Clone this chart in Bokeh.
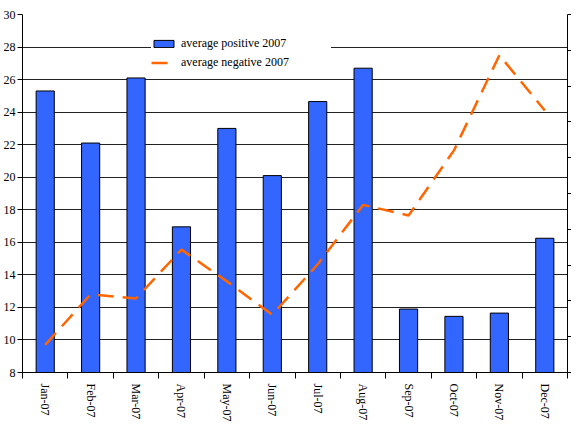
import math
from bokeh.plotting import figure
from bokeh.models import Range1d, FixedTicker, LinearAxis, Legend
from bokeh.embed import file_html
from bokeh.resources import INLINE

months = ["Jan-07", "Feb-07", "Mar-07", "Apr-07", "May-07", "Jun-07",
          "Jul-07", "Aug-07", "Sep-07", "Oct-07", "Nov-07", "Dec-07"]
positive = [25.3, 22.1, 26.1, 16.95, 23.0, 20.1, 24.65, 26.7, 11.9, 11.45, 11.65, 16.25]
negative = [9.7, 12.8, 12.55, 15.55, 13.6, 11.55, 14.65, 18.3, 17.65, 21.65, 27.5, 24.1]
y_ticks = list(range(8, 31, 2))
right_ticks = list(range(0, 11))

FONT = "Liberation Serif"
xs = list(range(len(months)))

p = figure(width=571, height=424, output_backend="svg", toolbar_location=None,
           x_range=Range1d(-0.5, len(months) - 0.5), y_range=Range1d(8, 30),
           min_border_left=10, min_border_right=0, min_border_top=14, min_border_bottom=10)
p.outline_line_color = None
p.background_fill_color = "white"
p.border_fill_color = "white"

p.extra_y_ranges = {"right": Range1d(0, 10)}

bars = p.vbar(x=xs, top=positive, bottom=8, width=0.4, fill_color="#3366FF",
              line_color="black", line_width=1)
ln = p.line(x=xs, y=negative, line_color="#FF6600", line_width=2.5, line_dash="16 9")

# x axis
xa = p.xaxis[0]
xa.ticker = FixedTicker(ticks=xs, minor_ticks=[i - 0.5 for i in range(len(months) + 1)])
xa.major_label_overrides = {i: m for i, m in enumerate(months)}
xa.major_tick_line_color = None
xa.minor_tick_out = 6
xa.minor_tick_in = 0
xa.minor_tick_line_color = "black"
xa.axis_line_color = "black"
xa.major_label_orientation = -math.pi / 2
xa.major_label_text_font = FONT
xa.major_label_text_font_size = "12px"
xa.major_label_text_color = "black"
xa.major_label_standoff = 5

# left y axis
ya = p.yaxis[0]
ya.ticker = FixedTicker(ticks=y_ticks)
ya.minor_tick_line_color = None
ya.major_tick_out = 5
ya.major_tick_in = 0
ya.axis_line_color = "black"
ya.major_tick_line_color = "black"
ya.major_label_text_font = FONT
ya.major_label_text_font_size = "12px"
ya.major_label_text_color = "black"
ya.major_label_standoff = 2

# right axis (its labels fall outside the picture in the reference)
ra = LinearAxis(y_range_name="right", ticker=FixedTicker(ticks=right_ticks))
ra.major_label_overrides = {t: "" for t in right_ticks}
ra.major_label_standoff = 0
ra.major_tick_out = 4
ra.major_tick_in = 0
ra.minor_tick_line_color = None
ra.axis_line_color = "black"
p.add_layout(ra, "right")

p.xgrid.grid_line_color = None
p.ygrid.ticker = FixedTicker(ticks=y_ticks)
p.ygrid.grid_line_color = "#222222"
p.ygrid.grid_line_width = 1

legend = Legend(items=[("average positive 2007", [bars]), ("average negative 2007", [ln])],
                location=(129, 302))
legend.label_text_font = FONT
legend.label_text_font_size = "12px"
legend.label_text_color = "black"
legend.glyph_width = 25
legend.glyph_height = 9
legend.label_height = 14
legend.spacing = 4
legend.padding = 8
legend.label_width = 150
legend.border_line_color = None
legend.background_fill_color = "white"
legend.background_fill_alpha = 1
p.add_layout(legend)

open("out.html", "w").write(file_html(p, INLINE))
